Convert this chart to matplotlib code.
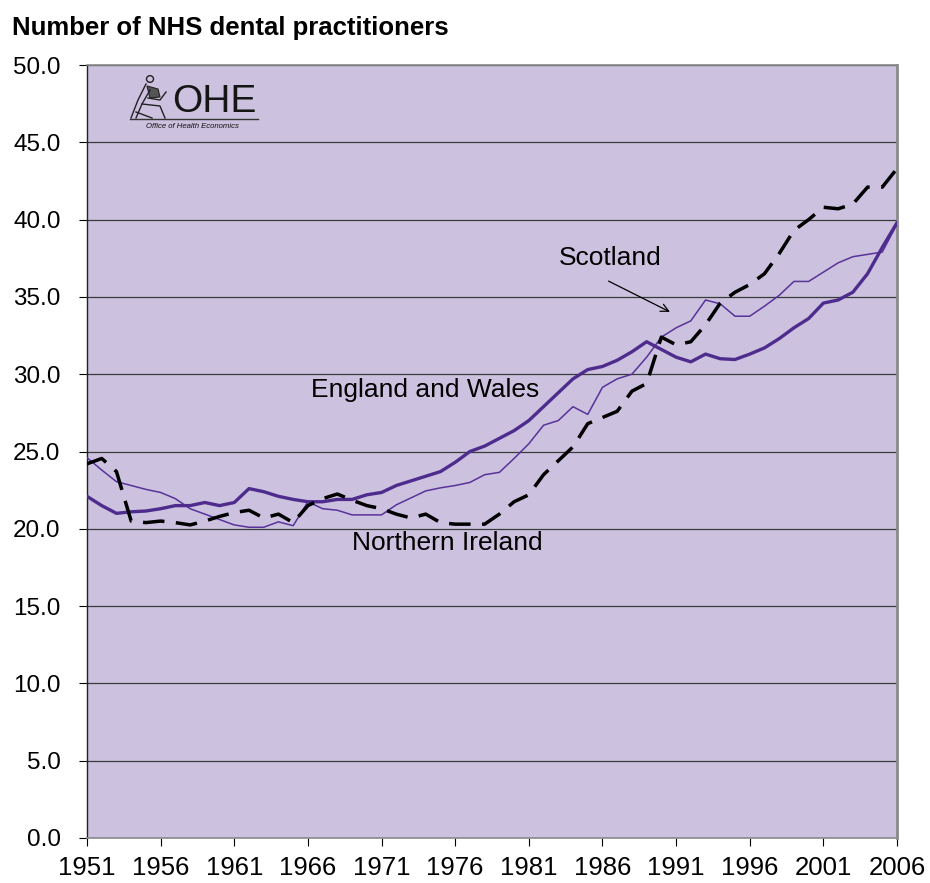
import matplotlib
matplotlib.use("Agg")
import matplotlib.pyplot as plt
from matplotlib.lines import Line2D
from matplotlib.patches import Circle, Polygon
from matplotlib import font_manager

# Number of NHS dental practitioners per 100,000 population, 1951-2006
years = list(range(1951, 2007))

england_wales = [
    22.1, 21.5, 21.0, 21.1, 21.15, 21.3, 21.5, 21.5, 21.7, 21.5,
    21.7, 22.6, 22.4, 22.1, 21.9, 21.75, 21.75, 21.9, 21.9, 22.2,
    22.35, 22.8, 23.1, 23.4, 23.7, 24.3, 25.0, 25.35, 25.85, 26.35,
    27.0, 27.9, 28.8, 29.7, 30.3, 30.5, 30.9, 31.45, 32.1, 31.6,
    31.1, 30.8, 31.3, 31.0, 30.95, 31.3, 31.7, 32.3, 33.0, 33.6,
    34.6, 34.8, 35.3, 36.5, 38.2, 39.8,
]

scotland = [
    24.6, 23.8, 23.05, 22.8, 22.55, 22.35, 21.95, 21.3, 20.95, 20.6,
    20.25, 20.1, 20.1, 20.45, 20.2, 21.75, 21.3, 21.2, 20.9, 20.9,
    20.9, 21.55, 22.0, 22.45, 22.65, 22.8, 23.0, 23.5, 23.65, 24.55,
    25.5, 26.7, 27.0, 27.9, 27.4, 29.15, 29.7, 30.0, 31.1, 32.4,
    33.0, 33.45, 34.8, 34.55, 33.75, 33.75, 34.4, 35.1, 36.0, 36.0,
    36.6, 37.2, 37.6, 37.75, 37.9, 39.7,
]

northern_ireland = [
    24.2, 24.55, 23.7, 20.5, 20.4, 20.5, 20.4, 20.25, 20.5, 20.8,
    21.05, 21.2, 20.7, 20.95, 20.4, 21.5, 21.95, 22.25, 21.85, 21.5,
    21.3, 20.95, 20.7, 20.95, 20.4, 20.3, 20.3, 20.3, 20.95, 21.75,
    22.2, 23.5, 24.4, 25.3, 26.8, 27.2, 27.6, 28.9, 29.4, 32.4,
    31.9, 32.1, 33.2, 34.6, 35.3, 35.8, 36.5, 37.8, 39.3, 40.0,
    40.8, 40.7, 41.0, 42.1, 42.1, 43.3,
]

x_ticks = list(range(1951, 2007, 5))
y_ticks = [0, 5, 10, 15, 20, 25, 30, 35, 40, 45, 50]

available = {f.name for f in font_manager.fontManager.ttflist}
sans = "Liberation Sans" if "Liberation Sans" in available else "DejaVu Sans"
narrow = "Liberation Sans Narrow" if "Liberation Sans Narrow" in available else sans
plt.rcParams["font.family"] = [sans, "DejaVu Sans"]

W, H = 930, 883
fig = plt.figure(figsize=(W / 100, H / 100), dpi=100, facecolor="white")
ax = fig.add_axes([87 / W, 1 - 838 / H, 810 / W, 773 / H])
ax.set_facecolor("#CCC1DE")

purple = "#4E2C8E"
ax.plot(years, scotland, color="#57339A", lw=1.1, zorder=3)
ax.plot(years, england_wales, color=purple, lw=2.4, zorder=4,
        solid_joinstyle="round")
ax.plot(years, northern_ireland, color="black", lw=2.5, zorder=5,
        dashes=(6.2, 3.3), dash_capstyle="butt")

ax.set_xlim(1951, 2006)
ax.set_ylim(0, 50)
ax.set_xticks(x_ticks)
ax.set_xticklabels([str(y) for y in x_ticks], fontfamily=[narrow, sans],
                   fontsize=18.5)
ax.set_yticks(y_ticks)
ax.set_yticklabels([f"{v:.1f}" for v in y_ticks], fontsize=17.5)
ax.tick_params(axis="y", direction="out", length=6, width=0.8,
               pad=13, colors="black")
ax.tick_params(axis="x", direction="out", length=6, width=0.8,
               pad=7, colors="black")

ax.yaxis.grid(True, color="#3A3A3A", lw=0.9)
ax.set_axisbelow(True)
for side, sp in ax.spines.items():
    sp.set_color("#8A8A8A")
    sp.set_linewidth(1.2)
ax.spines["left"].set_color("#222222")
ax.spines["left"].set_linewidth(1.0)
ax.spines["right"].set_linewidth(2.0)

# Series labels
ax.text(1973.95, 29.0, "England and Wales", fontsize=19, ha="center",
        va="center")
ax.text(1975.45, 19.1, "Northern Ireland", fontsize=19, ha="center",
        va="center")
ax.text(1986.5, 37.5, "Scotland", fontsize=19, ha="center", va="center")
ax.annotate("", xy=(1990.75, 33.95), xytext=(1986.25, 36.1),
            arrowprops=dict(arrowstyle="->", color="black", lw=0.9,
                            mutation_scale=14))

# Chart title
fig.text(12 / W, 1 - 28 / H, "Number of NHS dental practitioners",
         fontsize=18.5, fontweight="bold", ha="left", va="center")

# OHE logo
def fx(px):
    return px / W


def fy(py):
    return 1 - py / H


fig.text(fx(214), fy(102), "OHE", fontsize=28, ha="center", va="center",
         color="#151515")
fig.add_artist(Line2D([fx(130), fx(258)], [fy(119), fy(119)],
                      color="#333333", lw=1.0))
fig.text(fx(192), fy(126.5), "Office of Health Economics", fontsize=5.6,
         style="italic", ha="center", va="center", color="#111111")
fig.add_artist(Circle((fx(150), fy(79)), 3.5 / W, transform=fig.transFigure,
                      fill=False, ec="#222222", lw=1.0))
fig.add_artist(Polygon([[fx(147), fy(86)], [fx(158), fy(89)], [fx(160), fy(97)],
                        [fx(150), fy(98)]], closed=True,
                       transform=fig.transFigure, fc="#555555", ec="#222222",
                       lw=0.8))
for xs, ys in [
    ([146, 138, 131], [84, 100, 118]),
    ([150, 142, 136], [90, 104, 118]),
    ([148, 160, 166], [98, 100, 92]),
    ([142, 160, 165], [104, 106, 118]),
    ([136, 152], [112, 118]),
]:
    fig.add_artist(Line2D([fx(v) for v in xs], [fy(v) for v in ys],
                          color="#222222", lw=1.0))

fig.savefig("out.png", dpi=100, facecolor="white")
